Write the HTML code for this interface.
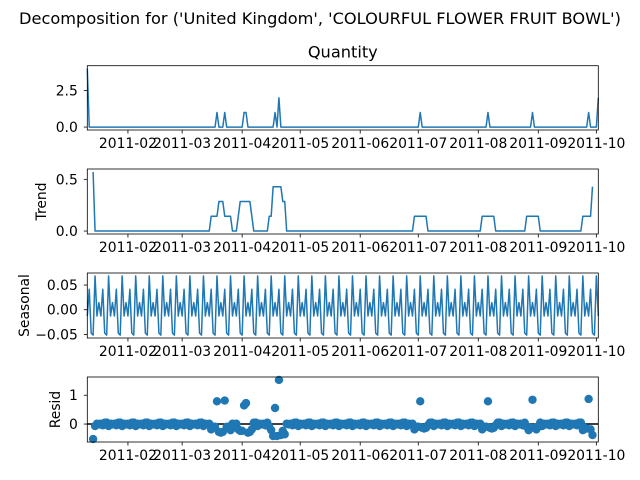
<!DOCTYPE html>
<html><head><meta charset="utf-8">
<style>
html,body{margin:0;padding:0;background:#fff;}
svg{display:block;font-family:"DejaVu Sans","Liberation Sans",sans-serif;}
</style></head>
<body>
<svg id="chart" width="640" height="480" viewBox="0 0 640 480">
<text x="320" y="24" font-size="16.2" text-anchor="middle" fill="#000">Decomposition for ('United Kingdom', 'COLOURFUL FLOWER FRUIT BOWL')</text>
<text x="342.8" y="57.5" font-size="16.2" text-anchor="middle" fill="#000">Quantity</text>
</svg>
<script>
// ---- data ----
const startDate = "2011-01-11";
const observed = [
4,0,0,0,0,0,0,0,0,0,0,0,0,0,0,0,0,0,0,0,
0,0,0,0,0,0,0,0,0,0,0,0,0,0,0,0,0,0,0,0,
0,0,0,0,0,0,0,0,0,0,0,0,0,0,0,0,0,0,0,0,
0,0,0,0,0,0,0,1,0,0,0,1,0,0,0,0,0,0,0,0,
0,1,1,0,0,0,0,0,0,0,0,0,0,0,0,0,0,1,0,2,
0,0,0,0,0,0,0,0,0,0,0,0,0,0,0,0,0,0,0,0,
0,0,0,0,0,0,0,0,0,0,0,0,0,0,0,0,0,0,0,0,
0,0,0,0,0,0,0,0,0,0,0,0,0,0,0,0,0,0,0,0,
0,0,0,0,0,0,0,0,0,0,0,0,1,0,0,0,0,0,0,0,
0,0,0,0,0,0,0,0,0,0,0,0,0,0,0,0,0,0,0,0,
0,0,0,0,0,0,0,1,0,0,0,0,0,0,0,0,0,0,0,0,
0,0,0,0,0,0,0,0,0,0,1,0,0,0,0,0,0,0,0,0,
0,0,0,0,0,0,0,0,0,0,0,0,0,0,0,0,0,0,0,1,
0,0,0,0,2];
const period = 7;
const xTickDates = ["2011-02-01","2011-03-01","2011-04-01","2011-05-01","2011-06-01","2011-07-01","2011-08-01","2011-09-01","2011-10-01"];
const xTickLabels = ["2011-02","2011-03","2011-04","2011-05","2011-06","2011-07","2011-08","2011-09","2011-10"];
const obsTicks = [0,2.5], obsTickLabels = ["0.0","2.5"];
const trendTicks = [0,0.5], trendTickLabels = ["0.0","0.5"];
const seasTicks = [-0.05,0,0.05], seasTickLabels = ["\u22120.05","0.00","0.05"];
const residTicks = [0,1], residTickLabels = ["0","1"];

// ---- decomposition (additive, centered moving average) ----
const n = observed.length, h = Math.floor(period/2);
const trend = observed.map((v,i)=>{
  if(i<h||i>=n-h) return NaN;
  let s=0; for(let k=-h;k<=h;k++) s+=observed[i+k]; return s/period;
});
const detr = observed.map((v,i)=>v-trend[i]);
const pavg = [];
for(let p=0;p<period;p++){let s=0,c=0;for(let i=p;i<n;i+=period){if(!isNaN(detr[i])){s+=detr[i];c++;}}pavg.push(c?s/c:0);}
const pm = pavg.reduce((a,b)=>a+b,0)/period;
const seasonal = observed.map((v,i)=>pavg[i%period]-pm);
const resid = detr.map((v,i)=>v-seasonal[i]);

// ---- layout ----
const NS="http://www.w3.org/2000/svg";
const svg=document.getElementById('chart');
const L=87.3,R=598.3;
const day0=Date.parse(startDate)/86400000;
function dayOf(s){return Date.parse(s)/86400000-day0;}
const xScale=d=>L+(d/(n-1))*(R-L);
const color="#1f77b4";
function mk(tag,attrs,parent){const e=document.createElementNS(NS,tag);for(const k in attrs)e.setAttribute(k,attrs[k]);(parent||svg).appendChild(e);return e;}
function range(arr){const v=arr.filter(x=>!isNaN(x));let lo=Math.min(...v),hi=Math.max(...v);const m=(hi-lo)*0.05;return [lo-m,hi+m];}

function panel(name,top,bot,series,ticks,tlabels,ylabel,labelX,scatter){
  const g=mk('g',{});
  
  
  const [lo,hi]=range(series);
  const y=v=>bot-(v-lo)/(hi-lo)*(bot-top);
  if(scatter){
    const zl=mk('line',{x1:L,x2:R,y1:y(0),y2:y(0),stroke:'#000','stroke-width':1.5},g);
    
    
    series.forEach((v,i)=>{ if(isNaN(v))return;
      const c=mk('circle',{cx:xScale(i),cy:y(v),r:4.2,fill:color},g);
      
      
    });
  } else {
    let d='',pen=false;
    series.forEach((v,i)=>{ if(isNaN(v)){pen=false;return;} d+=(pen?'L':'M')+xScale(i).toFixed(2)+','+y(v).toFixed(2); pen=true;});
    const p=mk('path',{d:d,fill:'none',stroke:color,'stroke-width':1.5,'stroke-linejoin':'round'},g);
    
    
  }
  const fr=mk('rect',{x:L,y:top,width:R-L,height:bot-top,fill:'none',stroke:'#000','stroke-width':0.8},g);
  
  
  xTickDates.forEach((ds,k)=>{
    const x=xScale(dayOf(ds));
    mk('line',{x1:x,x2:x,y1:bot,y2:bot+3.5,stroke:'#000','stroke-width':0.8},g);
    const t=mk('text',{x:x,y:bot+18,'font-size':13.9,'text-anchor':'middle',fill:'#000'},g);
    t.textContent=xTickLabels[k];
    
    
  });
  ticks.forEach((tv,k)=>{
    const yy=y(tv);
    mk('line',{x1:L-3.5,x2:L,y1:yy,y2:yy,stroke:'#000','stroke-width':0.8},g);
    const t=mk('text',{x:L-9.5,y:yy+5,'font-size':13.9,'text-anchor':'end',fill:'#000'},g);
    t.textContent=tlabels[k];
    
    
  });
  if(ylabel){
    const cy=(top+bot)/2;
    const t=mk('text',{x:0,y:0,'font-size':13.9,'text-anchor':'middle',fill:'#000',transform:`translate(${labelX},${cy}) rotate(-90)`},g);
    t.textContent=ylabel;
    
    
  }
}
panel('observed',65.7,130,observed,obsTicks,obsTickLabels,null,0,false);
panel('trend',169,234,trend,trendTicks,trendTickLabels,'Trend',46,false);
panel('seasonal',273,338,seasonal,seasTicks,seasTickLabels,'Seasonal',29,false);
panel('resid',377,442,resid,residTicks,residTickLabels,'Resid',60,true);
</script>
</body></html>
